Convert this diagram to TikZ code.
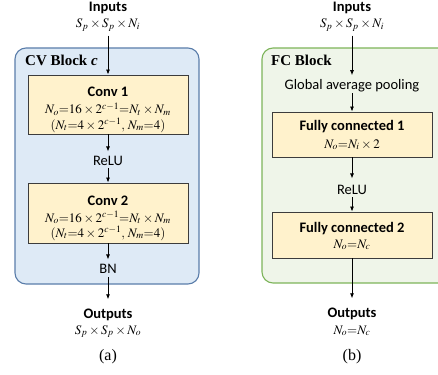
\documentclass[tikz,border=0pt]{standalone}
\usepackage{mathptmx}
\usepackage[no-math]{fontspec}
\setmainfont{Carlito}
\newfontfamily\tnrfont{Liberation Serif}
\usetikzlibrary{arrows.meta}
\definecolor{bluefill}{RGB}{222,234,246}
\definecolor{blueline}{RGB}{90,125,170}
\definecolor{greenfill}{RGB}{239,245,233}
\definecolor{greenline}{RGB}{125,180,90}
\definecolor{yelfill}{RGB}{255,242,204}
\definecolor{yelline}{RGB}{60,60,60}
\begin{document}
\begin{tikzpicture}[x=1pt,y=-1pt,
  lab/.style={font=\fontsize{14.5}{17}\selectfont, inner sep=0.5pt, anchor=base},
  hdr/.style={font=\fontsize{14.5}{17}\selectfont\bfseries, inner sep=0.5pt, anchor=base},
  mth/.style={font=\fontsize{13}{15}\selectfont, inner sep=0.5pt, anchor=base},
  capt/.style={font=\fontsize{16}{18}\selectfont\tnrfont, inner sep=0pt, anchor=base},
  blk/.style={font=\fontsize{15}{17}\selectfont\tnrfont\bfseries, inner sep=0pt, anchor=base west},
  layer/.style={draw=yelline, fill=yelfill, line width=0.9pt, minimum width=160pt, inner sep=0pt},
  arr/.style={-{Latex[length=5pt,width=4pt]}, line width=0.8pt},
  container/.style={rounded corners=11pt, line width=1.1pt},
]
\useasboundingbox (0,0) rectangle (438,374);
\clip (0,0) rectangle (438,374);

% ---------- (a) CV block ----------
\draw[container, draw=blueline, fill=bluefill] (15,48) rectangle (199,284);
\node[blk] (cvt) at (25,66) {CV Block \textit{c}};

\node[hdr] (in1) at (108,12) {Inputs};
\node[mth] (in1m) at (108,28) {$S_p\times S_p\times N_i$};

\node[layer, minimum height=59pt] (conv1) at (108,104.5) {};
\node[hdr] (conv1t) at (108,97) {Conv 1};
\node[mth] (conv1a) at (108,114) {$N_o{=}16\times2^{c-1}{=}N_t\times N_m$};
\node[mth] (conv1b) at (108,129) {$(N_t{=}4\times2^{c-1},\,N_m{=}4)$};

\node[lab] (relu1) at (108,165) {ReLU};

\node[layer, minimum height=60pt] (conv2) at (108,213) {};
\node[hdr] (conv2t) at (108,205) {Conv 2};
\node[mth] (conv2a) at (108,222) {$N_o{=}16\times2^{c-1}{=}N_t\times N_m$};
\node[mth] (conv2b) at (108,237) {$(N_t{=}4\times2^{c-1},\,N_m{=}4)$};

\node[lab] (bn) at (108,273) {BN};

\node[hdr] (out1) at (108,318) {Outputs};
\node[mth] (out1m) at (108,334) {$S_p\times S_p\times N_o$};
\node[capt] (capa) at (108,360) {(a)};

\draw[arr, shorten <=3pt] (in1m.south) -- (conv1.north);
\draw[arr, shorten >=3.5pt] (conv1.south) -- (relu1.north);
\draw[arr, shorten <=2.5pt] (relu1.south) -- (conv2.north);
\draw[arr, shorten >=3.5pt] (conv2.south) -- (bn.north);
\draw[arr, shorten <=3.5pt, shorten >=8.5pt] (bn.south) -- (out1.north);

% ---------- (b) FC block ----------
\draw[container, draw=greenline, fill=greenfill] (262,48) rectangle (452,283);
\node[blk] (fct) at (271,66) {FC Block};

\node[hdr] (in2) at (352,12) {Inputs};
\node[mth] (in2m) at (352,28) {$S_p\times S_p\times N_i$};

\node[lab] (gap) at (352,89.5) {Global average pooling};

\node[layer, minimum height=45pt] (fc1) at (352,134.5) {};
\node[hdr] (fc1t) at (352,131) {Fully connected 1};
\node[mth] (fc1a) at (352,148) {$N_o{=}N_i\times2$};

\node[lab] (relu2) at (352,194) {ReLU};

\node[layer, minimum height=46pt] (fc2) at (352,235) {};
\node[hdr] (fc2t) at (352,232) {Fully connected 2};
\node[mth] (fc2a) at (352,248) {$N_o{=}N_c$};

\node[hdr] (out2) at (352,317) {Outputs};
\node[mth] (out2m) at (352,334) {$N_o{=}N_c$};
\node[capt] (capb) at (352,360) {(b)};

\draw[arr, shorten <=3pt, shorten >=3.5pt] (in2m.south) -- (gap.north);
\draw[arr, shorten <=0.5pt] (gap.south) -- (fc1.north);
\draw[arr, shorten >=5.5pt] (fc1.south) -- (relu2.north);
\draw[arr, shorten <=2.5pt] (relu2.south) -- (fc2.north);
\draw[arr, shorten >=8.5pt] (fc2.south) -- (out2.north);
\end{tikzpicture}
\end{document}
